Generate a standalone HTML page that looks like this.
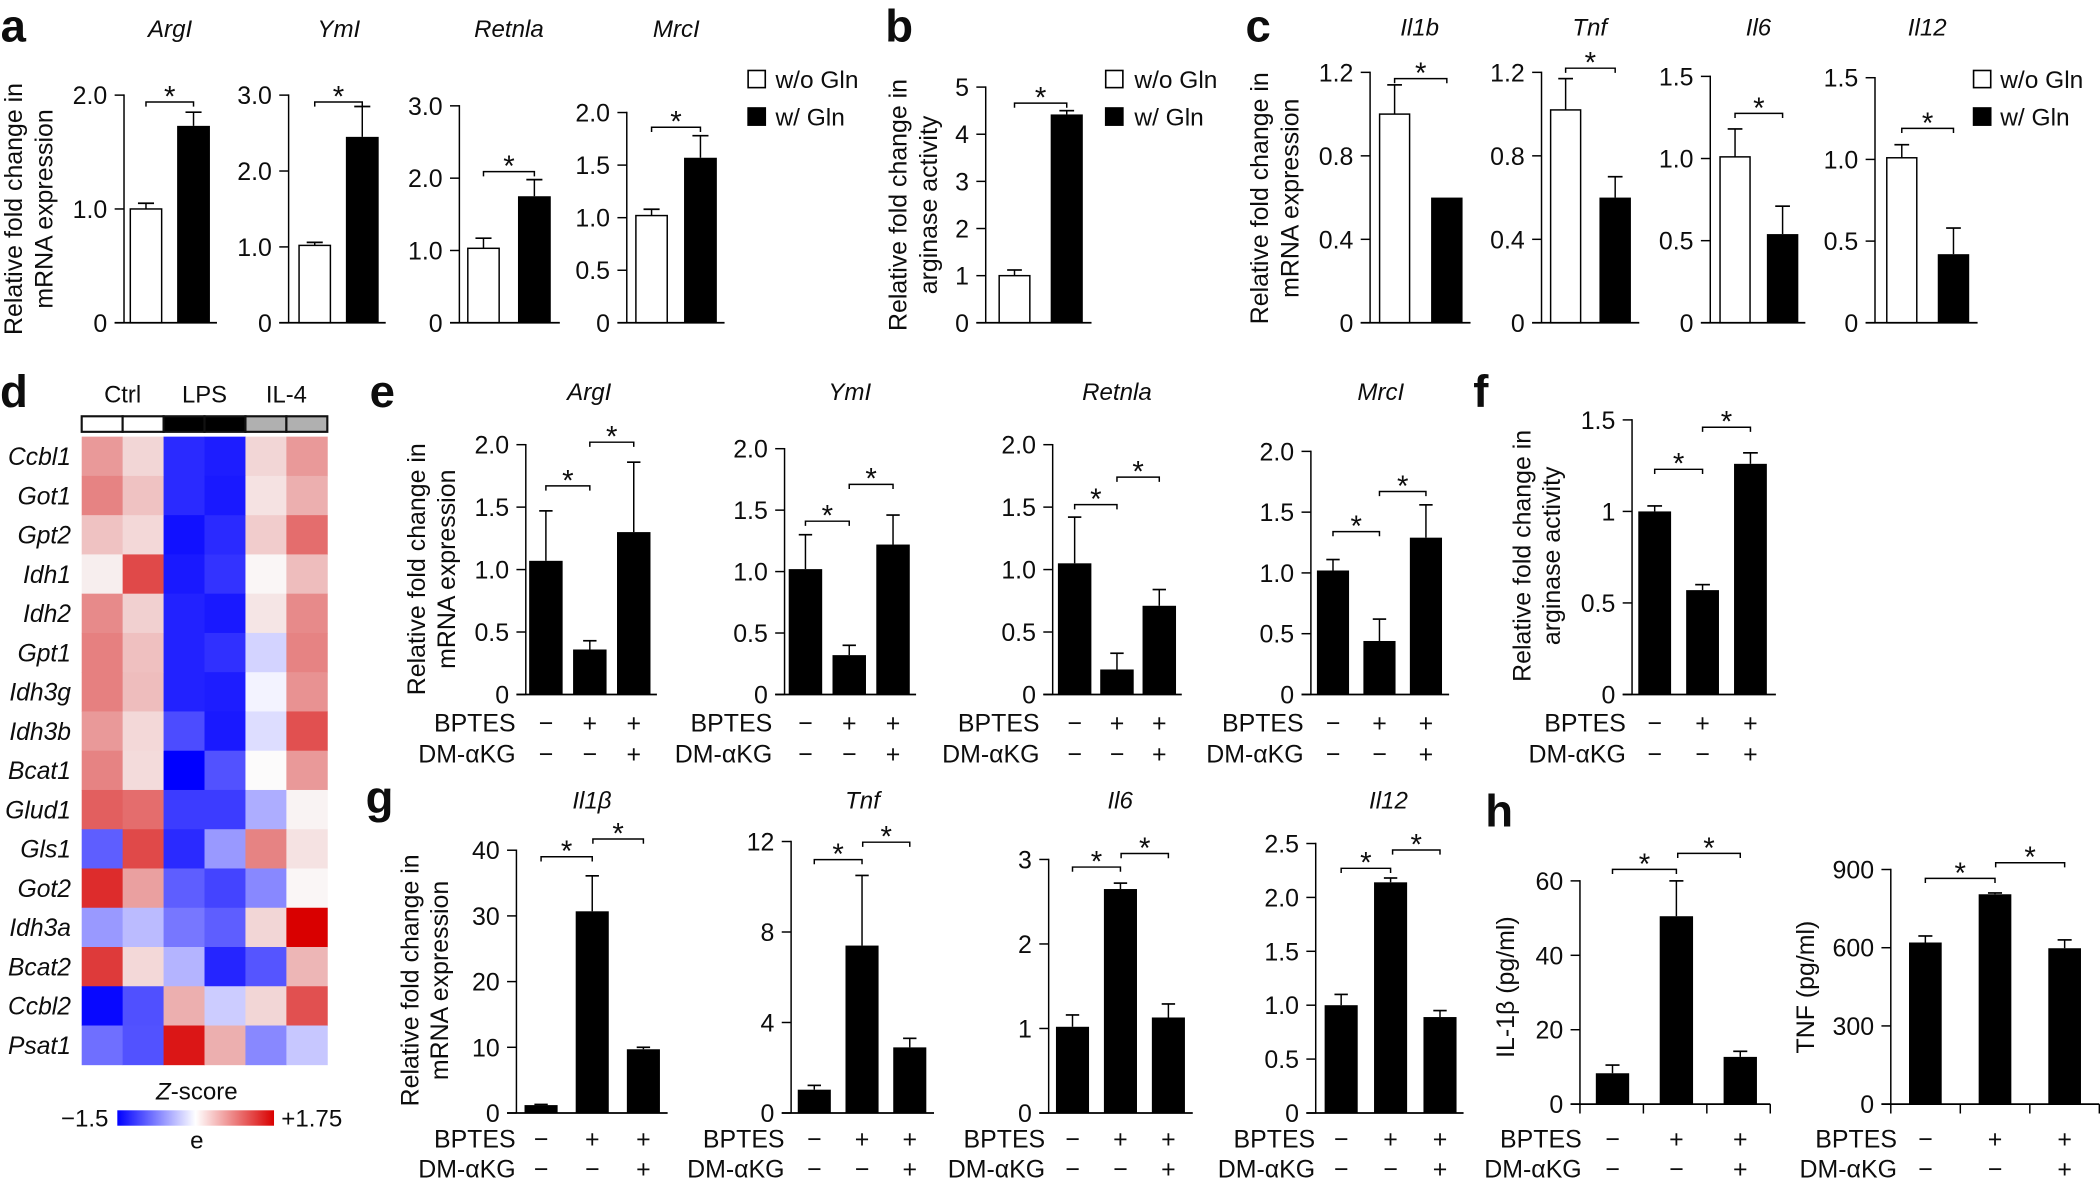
<!DOCTYPE html>
<html lang="en">
<head>
<meta charset="utf-8">
<title>Glutamine metabolism figure panels</title>
<style>
html,body{margin:0;padding:0;background:#fff;}
svg{display:block;}
text{font-family:"Liberation Sans",Arial,sans-serif;fill:#0d0d0d;}
</style>
</head>
<body>
<svg id="figure" xmlns="http://www.w3.org/2000/svg" width="2100" height="1184" viewBox="0 0 1568 884"></svg>
<script>
// ---------- chart data ----------
const bptesSigns = ['−', '+', '+'];
const dmSigns = ['−', '−', '+'];

const aArgValues = [1.0, 1.73];
const aArgErrors = [0.05, 0.12];
const aArgTicks = ['0', '1.0', '2.0'];
const aYmlValues = [1.02, 2.45];
const aYmlErrors = [0.04, 0.4];
const aYmlTicks = ['0', '1.0', '2.0', '3.0'];
const aRetValues = [1.03, 1.75];
const aRetErrors = [0.14, 0.23];
const aRetTicks = ['0', '1.0', '2.0', '3.0'];
const aMrcValues = [1.02, 1.57];
const aMrcErrors = [0.06, 0.21];
const aMrcTicks = ['0', '0.5', '1.0', '1.5', '2.0'];

const bValues = [1.0, 4.42];
const bErrors = [0.12, 0.08];
const bTicks = ['0', '1', '2', '3', '4', '5'];

const cIl1bValues = [1.0, 0.6];
const cIl1bErrors = [0.14, 0];
const cIl1bTicks = ['0', '0.4', '0.8', '1.2'];
const cTnfValues = [1.02, 0.6];
const cTnfErrors = [0.15, 0.1];
const cTnfTicks = ['0', '0.4', '0.8', '1.2'];
const cIl6Values = [1.01, 0.54];
const cIl6Errors = [0.17, 0.17];
const cIl6Ticks = ['0', '0.5', '1.0', '1.5'];
const cIl12Values = [1.01, 0.42];
const cIl12Errors = [0.08, 0.16];
const cIl12Ticks = ['0', '0.5', '1.0', '1.5'];

const heatGenes = ['Ccbl1', 'Got1', 'Gpt2', 'Idh1', 'Idh2', 'Gpt1', 'Idh3g', 'Idh3b', 'Bcat1', 'Glud1', 'Gls1', 'Got2', 'Idh3a', 'Bcat2', 'Ccbl2', 'Psat1'];
const heatGroups = ['Ctrl', 'LPS', 'IL-4'];
const heatSampleGroup = [0, 0, 1, 1, 2, 2];
const heatZScores = [
  [0.7, 0.28, -1.25, -1.33, 0.28, 0.7],
  [0.85, 0.42, -1.25, -1.35, 0.2, 0.55],
  [0.42, 0.27, -1.4, -1.25, 0.35, 1.0],
  [0.12, 1.25, -1.35, -1.2, 0.06, 0.45],
  [0.8, 0.32, -1.3, -1.35, 0.18, 0.8],
  [0.87, 0.43, -1.3, -1.22, -0.26, 0.85],
  [0.87, 0.45, -1.3, -1.33, -0.07, 0.75],
  [0.7, 0.27, -1.05, -1.35, -0.2, 1.2],
  [0.85, 0.25, -1.5, -1.02, 0.03, 0.7],
  [1.1, 1.0, -1.15, -1.15, -0.48, 0.08],
  [-0.95, 1.25, -1.25, -0.6, 0.85, 0.2],
  [1.45, 0.65, -0.95, -1.1, -0.7, 0.06],
  [-0.6, -0.4, -0.8, -0.95, 0.28, 1.75],
  [1.35, 0.27, -0.44, -1.28, -1.0, 0.5],
  [-1.45, -1.03, 0.55, -0.3, 0.28, 1.2],
  [-0.85, -1.02, 1.6, 0.55, -0.7, -0.33]
];

const eArgValues = [1.07, 0.36, 1.3];
const eArgErrors = [0.4, 0.07, 0.56];
const eArgTicks = ['0', '0.5', '1.0', '1.5', '2.0'];
const eYmlValues = [1.02, 0.32, 1.22];
const eYmlErrors = [0.28, 0.08, 0.24];
const eYmlTicks = ['0', '0.5', '1.0', '1.5', '2.0'];
const eRetValues = [1.05, 0.2, 0.71];
const eRetErrors = [0.37, 0.13, 0.13];
const eRetTicks = ['0', '0.5', '1.0', '1.5', '2.0'];
const eMrcValues = [1.02, 0.44, 1.29];
const eMrcErrors = [0.09, 0.18, 0.27];
const eMrcTicks = ['0', '0.5', '1.0', '1.5', '2.0'];

const fValues = [1.0, 0.57, 1.26];
const fErrors = [0.03, 0.03, 0.06];
const fTicks = ['0', '0.5', '1', '1.5'];

const gIl1Values = [1.2, 30.7, 9.7];
const gIl1Errors = [0.1, 5.4, 0.3];
const gIl1Ticks = ['0', '10', '20', '30', '40'];
const gTnfValues = [1.03, 7.4, 2.9];
const gTnfErrors = [0.19, 3.1, 0.4];
const gTnfTicks = ['0', '4', '8', '12'];
const gIl6Values = [1.02, 2.65, 1.13];
const gIl6Errors = [0.14, 0.07, 0.16];
const gIl6Ticks = ['0', '1', '2', '3'];
const gIl12Values = [1.0, 2.14, 0.89];
const gIl12Errors = [0.1, 0.04, 0.06];
const gIl12Ticks = ['0', '0.5', '1.0', '1.5', '2.0', '2.5'];

const hIl1Values = [8.3, 50.5, 12.7];
const hIl1Errors = [2.2, 9.5, 1.5];
const hIl1Ticks = ['0', '20', '40', '60'];
const hTnfValues = [620, 805, 598];
const hTnfErrors = [25, 5, 32];
const hTnfTicks = ['0', '300', '600', '900'];

// ---------- drawing helpers ----------
const NS = 'http://www.w3.org/2000/svg';
const root = document.getElementById('figure');
const FONT = 18.6;

function mk(tag, attrs, parent, content) {
  const el = document.createElementNS(NS, tag);
  for (const k in attrs) el.setAttribute(k, attrs[k]);
  if (content !== undefined) el.textContent = content;
  parent.appendChild(el);
  return el;
}
function label(parent, x, cy, str, anchor, size, extra) {
  const attrs = {x: x, y: cy + size * 0.36, 'font-size': size, 'text-anchor': anchor};
  for (const k in extra) attrs[k] = extra[k];
  return mk('text', attrs, parent, str);
}
function seg(parent, x1, y1, x2, y2, w) {
  return mk('line', {x1: x1, y1: y1, x2: x2, y2: y2, stroke: '#000', 'stroke-width': w}, parent);
}

function drawBarPlot(p) {
  const g = mk('g', {}, root);
  
  

  const ticks = p.ticks;
  const maxVal = parseFloat(ticks[ticks.length - 1]);
  const yScale = function (v) { return p.baseY - (v / maxVal) * (p.baseY - p.topY); };
  const xScale = function (i) { return p.firstX + i * p.step; };
  const barW = p.barW;
  const leftEnd = p.axisX - 7;

  // bars
  p.values.forEach(function (v, i) {
    const open = p.open && p.open[i];
    const bar = mk('rect', {
      x: xScale(i) - barW / 2 + (open ? 0.55 : 0), y: yScale(v),
      width: barW - (open ? 1.1 : 0), height: p.baseY - yScale(v),
      fill: open ? '#fff' : '#000', stroke: '#000', 'stroke-width': open ? 1.1 : 0
    }, g);
    
    

    const e = p.errors[i];
    if (e > 0) {
      const top = yScale(v + e);
      const stem = seg(g, xScale(i), yScale(v), xScale(i), top, 1.1);
      
      
      const cap = seg(g, xScale(i) - p.capW / 2, top, xScale(i) + p.capW / 2, top, 1.25);
      
      
    }
  });

  // axes
  const yAxis = seg(g, p.axisX, yScale(maxVal) - 0.55, p.axisX, p.baseY, 1.1);
  
  
  const xAxis = seg(g, leftEnd, p.baseY, p.axisEnd, p.baseY, 1.3);
  
  

  ticks.forEach(function (t) {
    const y = yScale(parseFloat(t));
    const tick = seg(g, leftEnd, y, p.axisX, y, 1.1);
    
    
    const tl = label(g, leftEnd - 5.5, y, t, 'end', FONT);
    
    
  });

  // x-axis band ticks (panel h)
  if (p.xTicks) {
    for (let i = 0; i <= p.values.length; i++) {
      const tx = p.axisX + i * (p.axisEnd - p.axisX) / p.values.length;
      const xt = seg(g, tx, p.baseY, tx, p.baseY + 7, 1.1);
      
      
    }
  }

  // title
  if (p.title) {
    const title = label(g, p.titleX, p.titleY, p.title, 'middle', 18, {'font-style': 'italic'});
    
    
  }

  // significance brackets
  (p.sig || []).forEach(function (s) {
    const x1 = xScale(s[0]) + (s[3] || 0);
    const x2 = xScale(s[1]);
    const y = yScale(s[2]);
    const br = mk('path', {d: 'M' + x1 + ' ' + (y + 3.5) + 'V' + y + 'H' + x2 + 'V' + (y + 3.5), fill: 'none', stroke: '#000', 'stroke-width': 1.1}, g);
    
    
    const star = mk('text', {x: (x1 + x2) / 2, y: y + 3.3, 'font-size': 22, 'text-anchor': 'middle'}, g, '*');
    
    
  });

  // treatment rows
  if (p.rowsX) {
    const r1 = label(g, p.rowsX, p.row1Y, 'BPTES', 'end', FONT);
    
    
    const r2 = label(g, p.rowsX, p.row2Y, 'DM-αKG', 'end', FONT);
    
    
    bptesSigns.forEach(function (c, i) {
      const sa = label(g, xScale(i), p.row1Y, c, 'middle', FONT);
      
      
    });
    dmSigns.forEach(function (c, i) {
      const sb = label(g, xScale(i), p.row2Y, c, 'middle', FONT);
      
      
    });
  }
}

function yTitle(id, lines, cx, cy) {
  const g = mk('g', {}, root);
  
  
  lines.forEach(function (txt, i) {
    const x = cx[i] + FONT * 0.36;
    const t = mk('text', {x: x, y: cy, 'font-size': FONT, 'text-anchor': 'middle', transform: 'rotate(-90 ' + x + ' ' + cy + ')'}, g, txt);
    
    
  });
}

function panelLetter(ch, x, baseline) {
  const t = mk('text', {x: x, y: baseline, 'font-size': 34, 'font-weight': 'bold'}, root, ch);
  
  
}

function legend(id, x, textX, y1, y2) {
  const g = mk('g', {}, root);
  
  
  const a = mk('rect', {x: x + 0.6, y: y1 - 6.4, width: 12.8, height: 12.8, fill: '#fff', stroke: '#000', 'stroke-width': 1.2}, g);
  
  
  const at = label(g, textX, y1, 'w/o Gln', 'start', 18.3);
  
  
  const b = mk('rect', {x: x, y: y2 - 7, width: 14, height: 14, fill: '#000'}, g);
  
  
  const bt = label(g, textX, y2, 'w/ Gln', 'start', 18.3);
  
  
}

// ---------- panel a ----------
panelLetter('a', 0.5, 31);
const openBars = [true, false];
const aBase = {baseY: 241, barW: 24.5, capW: 12, open: openBars, titleY: 21};
drawBarPlot(Object.assign({}, aBase, {id: 'a-argi', title: 'ArgI', titleX: 127, axisX: 92.6, axisEnd: 162, topY: 71, firstX: 109, step: 35.5, values: aArgValues, errors: aArgErrors, ticks: aArgTicks, sig: [[0, 1, 1.94]]}));
drawBarPlot(Object.assign({}, aBase, {id: 'a-ymi', title: 'YmI', titleX: 253, axisX: 215.5, axisEnd: 288, topY: 71, firstX: 235, step: 35.5, values: aYmlValues, errors: aYmlErrors, ticks: aYmlTicks, sig: [[0, 1, 2.91]]}));
drawBarPlot(Object.assign({}, aBase, {id: 'a-retnla', title: 'Retnla', titleX: 380, axisX: 343, axisEnd: 418, topY: 79, firstX: 361, step: 38, values: aRetValues, errors: aRetErrors, ticks: aRetTicks, sig: [[0, 1, 2.09]]}));
drawBarPlot(Object.assign({}, aBase, {id: 'a-mrci', title: 'MrcI', titleX: 505, axisX: 468, axisEnd: 541, topY: 84, firstX: 486.5, step: 36.5, values: aMrcValues, errors: aMrcErrors, ticks: aMrcTicks, sig: [[0, 1, 1.86]]}));
yTitle('a-y-axis-title', ['Relative fold change in', 'mRNA expression'], [9.6, 32.6], 156);
legend('a-legend', 558, 579, 59, 87);

// ---------- panel b ----------
panelLetter('b', 661, 31);
drawBarPlot({id: 'b-arginase', baseY: 241, topY: 65, axisX: 736, axisEnd: 815, barW: 24, capW: 11, open: openBars, firstX: 757.5, step: 39, values: bValues, errors: bErrors, ticks: bTicks, sig: [[0, 1, 4.66]]});
yTitle('b-y-axis-title', ['Relative fold change in', 'arginase activity'], [670, 693], 153);
legend('b-legend', 825, 847, 59, 87);

// ---------- panel c ----------
panelLetter('c', 930, 31);
const cBase = {baseY: 241, barW: 23.5, capW: 11, open: openBars, titleY: 20};
drawBarPlot(Object.assign({}, cBase, {id: 'c-il1b', title: 'Il1b', titleX: 1060, axisX: 1023, axisEnd: 1098, topY: 54, firstX: 1041.3, step: 39, values: cIl1bValues, errors: cIl1bErrors, ticks: cIl1bTicks, sig: [[0, 1, 1.17]]}));
drawBarPlot(Object.assign({}, cBase, {id: 'c-tnf', title: 'Tnf', titleX: 1187, axisX: 1151, axisEnd: 1224, topY: 54, firstX: 1169, step: 37, values: cTnfValues, errors: cTnfErrors, ticks: cTnfTicks, sig: [[0, 1, 1.22]]}));
drawBarPlot(Object.assign({}, cBase, {id: 'c-il6', title: 'Il6', titleX: 1313, axisX: 1277, axisEnd: 1348, topY: 57, firstX: 1295.5, step: 35.5, values: cIl6Values, errors: cIl6Errors, ticks: cIl6Ticks, sig: [[0, 1, 1.275]]}));
drawBarPlot(Object.assign({}, cBase, {id: 'c-il12', title: 'Il12', titleX: 1439, axisX: 1400, axisEnd: 1476.6, topY: 58, firstX: 1420, step: 38.6, values: cIl12Values, errors: cIl12Errors, ticks: cIl12Ticks, sig: [[0, 1, 1.19]]}));
yTitle('c-y-axis-title', ['Relative fold change in', 'mRNA expression'], [940, 963], 148);
legend('c-legend', 1473, 1493.5, 59, 87);

// ---------- panel d: heatmap ----------
panelLetter('d', 0, 304);
(function drawHeatmap() {
  const g = mk('g', {}, root);
  
  
  const left = 61, right = 244.4, top = 326, bottom = 795;
  const colW = (right - left) / heatSampleGroup.length;
  const rowH = (bottom - top) / heatGenes.length;
  const groupFill = ['#fff', '#000', '#b0b0b0'];

  const zColor = function (z) {
    if (z < 0) {
      const t = Math.min(1, z / -1.5);
      const c = Math.round(255 * (1 - t));
      return 'rgb(' + c + ',' + c + ',255)';
    }
    const t = Math.min(1, z / 1.75);
    const gb = Math.round(255 * (1 - t));
    return 'rgb(' + Math.round(255 - 38 * Math.pow(t, 0.6)) + ',' + gb + ',' + gb + ')';
  };

  heatGroups.forEach(function (name, gi) {
    let first = heatSampleGroup.indexOf(gi);
    let last = heatSampleGroup.lastIndexOf(gi);
    const cx = left + (first + last + 1) / 2 * colW;
    const t = label(g, cx, 294, name, 'middle', 17.8);
    
    
  });

  heatSampleGroup.forEach(function (gi, c) {
    const cell = mk('rect', {x: left + c * colW, y: 310.8, width: colW, height: 11.6, fill: groupFill[gi], stroke: '#111', 'stroke-width': 1.6}, g);
    
    
  });

  heatGenes.forEach(function (gene, r) {
    const t = label(g, 53, top + (r + 0.5) * rowH, gene, 'end', 18.4, {'font-style': 'italic'});
    
    
    heatZScores[r].forEach(function (z, c) {
      const cell = mk('rect', {x: left + c * colW, y: top + r * rowH, width: colW + 0.3, height: rowH + 0.3, fill: zColor(z)}, g);
      
      
    });
  });

  const defs = mk('defs', {}, g);
  const grad = mk('linearGradient', {id: 'zscale', x1: 0, x2: 1, y1: 0, y2: 0}, defs);
  mk('stop', {offset: '0', 'stop-color': '#0000ff'}, grad);
  mk('stop', {offset: '0.5', 'stop-color': '#ffffff'}, grad);
  mk('stop', {offset: '1', 'stop-color': '#d90000'}, grad);

  const zt = mk('text', {x: 147, y: 821, 'font-size': 18, 'text-anchor': 'middle'}, g);
  
  
  mk('tspan', {'font-style': 'italic'}, zt, 'Z');
  mk('tspan', {}, zt, '-score');
  const bar = mk('rect', {x: 87.6, y: 829, width: 117, height: 11.5, fill: 'url(#zscale)'}, g);
  
  
  const lo = label(g, 81, 834.5, '−1.5', 'end', 18);
  
  
  const hi = label(g, 210, 834.5, '+1.75', 'start', 18);
  
  
  const e = label(g, 147, 851, 'e', 'middle', 18);
  
  
})();

// ---------- panel e ----------
panelLetter('e', 276, 304);
const eBase = {baseY: 518.5, barW: 25, capW: 10, titleY: 292, row1Y: 539.6, row2Y: 562.5};
drawBarPlot(Object.assign({}, eBase, {id: 'e-argi', title: 'ArgI', titleX: 440, axisX: 392.6, axisEnd: 490.5, topY: 332, firstX: 407.6, step: 32.8, values: eArgValues, errors: eArgErrors, ticks: eArgTicks, rowsX: 385, sig: [[0, 1, 1.67], [1, 2, 2.02]]}));
drawBarPlot(Object.assign({}, eBase, {id: 'e-ymi', title: 'YmI', titleX: 634.5, axisX: 585.8, axisEnd: 684, topY: 335, firstX: 601.4, step: 32.7, values: eYmlValues, errors: eYmlErrors, ticks: eYmlTicks, rowsX: 576.6, sig: [[0, 1, 1.41], [1, 2, 1.71]]}));
drawBarPlot(Object.assign({}, eBase, {id: 'e-retnla', title: 'Retnla', titleX: 834, axisX: 786, axisEnd: 882.4, topY: 332, firstX: 802.4, step: 31.6, values: eRetValues, errors: eRetErrors, ticks: eRetTicks, rowsX: 776.2, sig: [[0, 1, 1.52], [1, 2, 1.74]]}));
drawBarPlot(Object.assign({}, eBase, {id: 'e-mrci', title: 'MrcI', titleX: 1031, axisX: 978.8, axisEnd: 1082, topY: 337, firstX: 995.3, step: 34.7, barW: 24, values: eMrcValues, errors: eMrcErrors, ticks: eMrcTicks, rowsX: 973.4, sig: [[0, 1, 1.34], [1, 2, 1.67]]}));
yTitle('e-y-axis-title', ['Relative fold change in', 'mRNA expression'], [310.7, 333], 425);

// ---------- panel f ----------
panelLetter('f', 1100, 304);
drawBarPlot(Object.assign({}, eBase, {id: 'f-arginase', title: '', axisX: 1218.6, axisEnd: 1326, topY: 313.5, firstX: 1235.5, step: 35.75, barW: 24.5, capW: 11, values: fValues, errors: fErrors, ticks: fTicks, rowsX: 1214, sig: [[0, 1, 1.23], [1, 2, 1.46]]}));
yTitle('f-y-axis-title', ['Relative fold change in', 'arginase activity'], [1136, 1158], 415);

// ---------- panel g ----------
panelLetter('g', 273, 607);
const gBase = {baseY: 831, barW: 24.7, capW: 10, titleY: 597, row1Y: 850, row2Y: 872.5};
drawBarPlot(Object.assign({}, gBase, {id: 'g-il1b', title: 'Il1β', titleX: 442, axisX: 385.6, axisEnd: 498.5, topY: 634.8, firstX: 404, step: 38.2, values: gIl1Values, errors: gIl1Errors, ticks: gIl1Ticks, rowsX: 385, sig: [[0, 1, 39], [1, 2, 41.7, 0.5]]}));
drawBarPlot(Object.assign({}, gBase, {id: 'g-tnf', title: 'Tnf', titleX: 644, axisX: 590.7, axisEnd: 697.4, topY: 628.3, firstX: 608, step: 35.65, values: gTnfValues, errors: gTnfErrors, ticks: gTnfTicks, rowsX: 585.8, sig: [[0, 1, 11.2], [1, 2, 11.97, 0.5]]}));
drawBarPlot(Object.assign({}, gBase, {id: 'g-il6', title: 'Il6', titleX: 836.4, axisX: 783, axisEnd: 890.6, topY: 641.7, firstX: 800.8, step: 35.8, values: gIl6Values, errors: gIl6Errors, ticks: gIl6Ticks, rowsX: 780.4, sig: [[0, 1, 2.91], [1, 2, 3.07, 0.5]]}));
drawBarPlot(Object.assign({}, gBase, {id: 'g-il12', title: 'Il12', titleX: 1036.7, axisX: 982.4, axisEnd: 1092.8, topY: 629.8, firstX: 1001.4, step: 36.9, values: gIl12Values, errors: gIl12Errors, ticks: gIl12Ticks, rowsX: 982, sig: [[0, 1, 2.27], [1, 2, 2.44, 1.5]]}));
yTitle('g-y-axis-title', ['Relative fold change in', 'mRNA expression'], [305.8, 328], 732);

// ---------- panel h ----------
panelLetter('h', 1109, 617);
const hBase = {baseY: 824.4, xTicks: true, capW: 10.5, row1Y: 850, row2Y: 872.5};
drawBarPlot(Object.assign({}, hBase, {id: 'h-il1b', axisX: 1179.7, axisEnd: 1321.8, topY: 657.7, firstX: 1204, step: 47.7, barW: 24.9, values: hIl1Values, errors: hIl1Errors, ticks: hIl1Ticks, rowsX: 1181, sig: [[0, 1, 63.1], [1, 2, 67.4, 1]]}));
drawBarPlot(Object.assign({}, hBase, {id: 'h-tnf', axisX: 1411.8, axisEnd: 1567.5, topY: 649.2, firstX: 1437.6, step: 52, barW: 24.4, values: hTnfValues, errors: hTnfErrors, ticks: hTnfTicks, rowsX: 1416.4, sig: [[0, 1, 866], [1, 2, 926, 0.5]]}));
yTitle('h-il1b-y-axis-title', ['IL-1β (pg/ml)'], [1123.6], 737);
yTitle('h-tnf-y-axis-title', ['TNF (pg/ml)'], [1347.6], 737);
</script>
</body>
</html>
